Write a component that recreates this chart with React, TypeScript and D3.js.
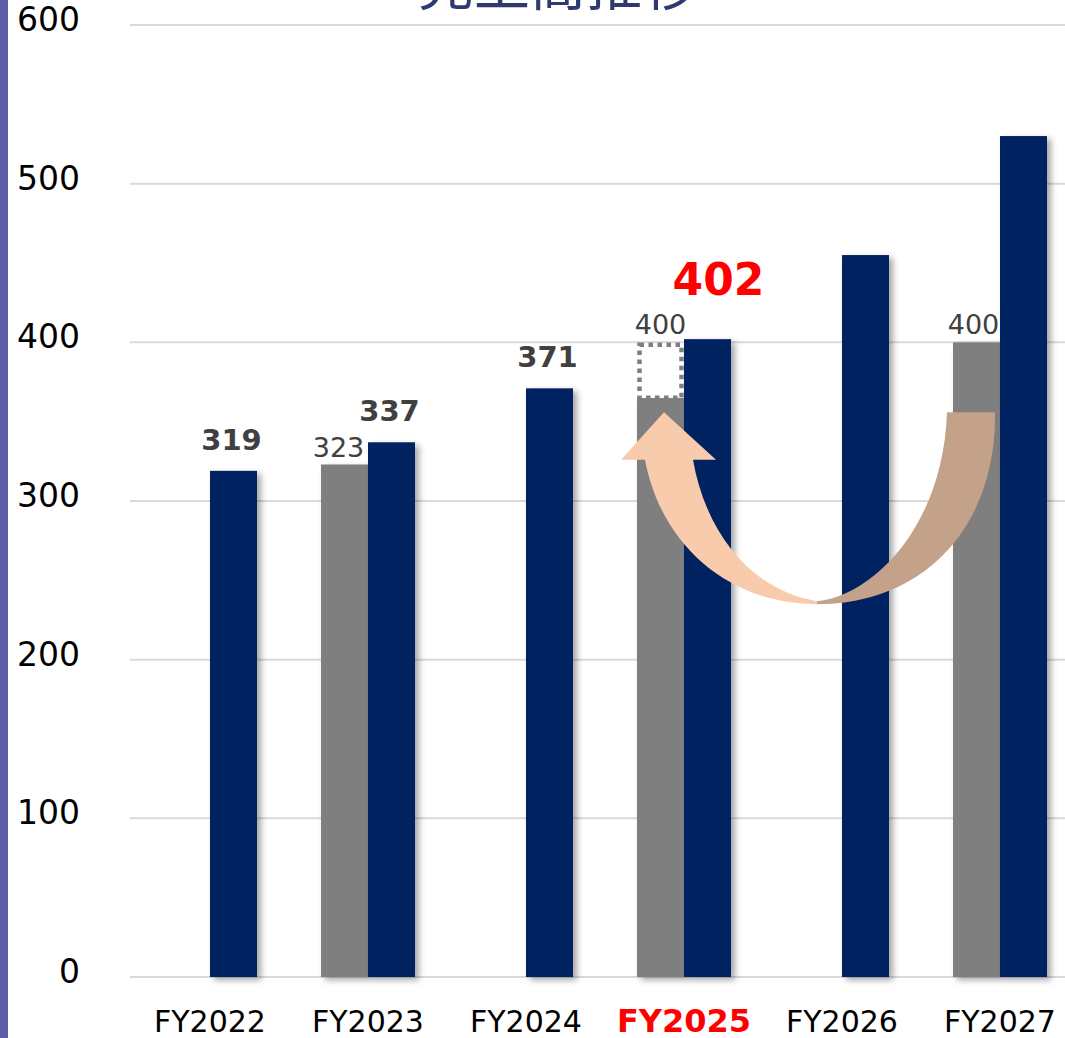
import React from "react";
import * as d3 from "d3";

const categories = ["FY2022", "FY2023", "FY2024", "FY2025", "FY2026", "FY2027"];
const planValues: (number | null)[] = [null, 323, null, 365, null, 400];
const planLabels: (string | null)[] = [null, "323", null, "400", null, "400"];
const actualValues = [319, 337, 371, 402, 455, 530];
const actualLabels: (string | null)[] = ["319", "337", "371", "402", null, null];
const planTargetFY2025 = 400;
const yTicks = [0, 100, 200, 300, 400, 500, 600];
const titleText = "売上高推移";
const highlightCategory = "FY2025";

const W = 1065;
const H = 1038;
const NAVY = "#002060";
const GRAY = "#7f7f7f";

export default function App() {
  const x = d3.scaleBand<string>().domain(categories).range([131, 131 + 6 * 158]).paddingInner(0).paddingOuter(0);
  const y = d3.scaleLinear().domain([0, 600]).range([977, 25]);
  const barW = 47;
  const cx = (c: string) => (x(c) as number) + x.bandwidth() / 2;

  const c25 = cx("FY2025");
  const c27 = cx("FY2027");
  const yTop = y(356);
  const yHead = y(326);
  const yBot = y(235);
  const meetX = (c25 + c27) / 2 - 25;

  const leftBand = `M ${meetX},${yBot}
    C ${meetX - 88},${yBot} ${c25 - 23},${yBot - 59} ${c25 - 39},${yHead}
    L ${c25 - 63},${yHead} L ${c25 - 20},${yTop} L ${c25 + 32},${yHead} L ${c25 + 9},${yHead}
    C ${c25 + 21},${yHead + 70} ${c25 + 65},${yBot - 14} ${meetX},${yBot - 3} Z`;
  const rightBand = `M ${c27 - 53},${yTop} L ${c27 - 5},${yTop}
    C ${c27 - 3},${yTop + 108} ${c27 - 70},${yBot} ${meetX},${yBot}
    L ${meetX},${yBot - 3}
    C ${meetX + 52},${yBot - 7} ${c27 - 57},${yTop + 118} ${c27 - 53},${yTop} Z`;

  return (
    <svg
      width={W}
      height={H}
      style={{ position: "absolute", left: 0, top: 0, background: "#fff" }}
      fontFamily="'DejaVu Sans', Verdana, sans-serif"
    >
      <defs>
        <filter id="sh" x="-30%" y="-5%" width="160%" height="110%">
          <feDropShadow dx="4" dy="3" stdDeviation="3" floodColor="#000" floodOpacity="0.35" />
        </filter>
      </defs>
      <rect x={0} y={0} width={W} height={H} fill="#fff" />
      <rect x={0} y={0} width={8} height={H} fill="#5b5ea6" />

      <text
        x={558}
        y={5}
        textAnchor="middle"
        fontFamily="'Noto Sans CJK JP', sans-serif"
        fontSize={56}
        fill="#2e3a6e"
      >
        {titleText}
      </text>

      {yTicks.map((t) => (
        <g key={t}>
          <line x1={130} x2={W} y1={y(t)} y2={y(t)} stroke="#d9d9d9" strokeWidth={2} />
          <text x={80} y={y(t) + 6} textAnchor="end" fontSize={33} fill="#000">
            {t}
          </text>
        </g>
      ))}

      {categories.map((c, i) => {
        const pv = planValues[i];
        return (
          <g key={c}>
            {pv !== null && (
              <rect x={cx(c) - barW} y={y(pv)} width={barW} height={y(0) - y(pv)} fill={GRAY} filter="url(#sh)" />
            )}
            <rect
              x={cx(c)}
              y={y(actualValues[i])}
              width={barW}
              height={y(0) - y(actualValues[i])}
              fill={NAVY}
              filter="url(#sh)"
            />
          </g>
        );
      })}

      <rect
        x={c25 - barW + 2.5}
        y={y(planTargetFY2025) + 2.5}
        width={barW - 5}
        height={y(planValues[3] as number) - y(planTargetFY2025) - 2.5}
        fill="#fff"
        stroke={GRAY}
        strokeWidth={4.5}
        strokeDasharray="4.5 4.5"
      />

      <path d={rightBand} fill="#c4a28a" />
      <path d={leftBand} fill="#f8cbad" />

      {categories.map((c, i) => {
        const pl = planLabels[i];
        const pv = i === 3 ? planTargetFY2025 : planValues[i];
        const al = actualLabels[i];
        const hl = c === highlightCategory;
        return (
          <g key={"l" + c}>
            {pl !== null && pv !== null && (
              <text
                x={cx(c) - barW / 2 - (i === 1 ? 6 : i === 5 ? 3 : 0)}
                y={y(pv) - 8}
                textAnchor="middle"
                fontSize={27}
                fill="#404040"
              >
                {pl}
              </text>
            )}
            {al !== null && (
              <text
                x={cx(c) + barW / 2 + (hl ? 11 : -2)}
                y={hl ? y(actualValues[i]) - 44 : y(actualValues[i]) - 21}
                textAnchor="middle"
                fontSize={hl ? 44 : 29}
                fontWeight="bold"
                fill={hl ? "#ff0000" : "#404040"}
              >
                {al}
              </text>
            )}
            <text
              x={cx(c)}
              y={1032}
              textAnchor="middle"
              fontSize={hl ? 32 : 30}
              fontWeight={hl ? "bold" : "normal"}
              fill={hl ? "#ff0000" : "#000"}
            >
              {c}
            </text>
          </g>
        );
      })}
    </svg>
  );
}
